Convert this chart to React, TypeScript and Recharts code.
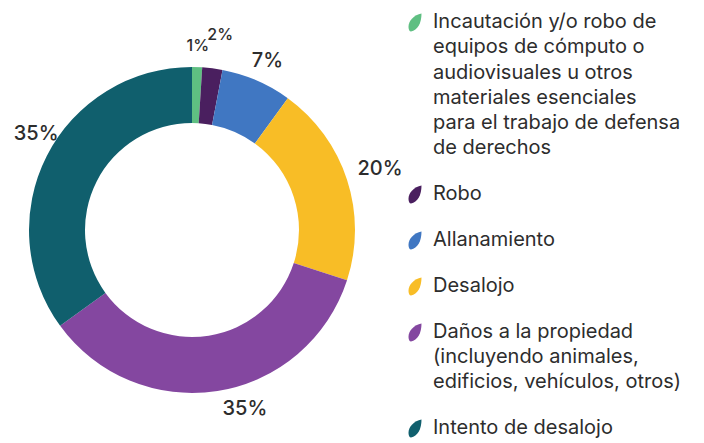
import { PieChart, Pie, Cell, Legend } from "recharts";

const categories = [
  "Incautación y/o robo de equipos de cómputo o audiovisuales u otros materiales esenciales para el trabajo de defensa de derechos",
  "Robo",
  "Allanamiento",
  "Desalojo",
  "Daños a la propiedad (incluyendo animales, edificios, vehículos, otros)",
  "Intento de desalojo",
];
const legendLines = [
  ["Incautación y/o robo de", "equipos de cómputo o", "audiovisuales u otros", "materiales esenciales", "para el trabajo de defensa", "de derechos"],
  ["Robo"],
  ["Allanamiento"],
  ["Desalojo"],
  ["Daños a la propiedad", "(incluyendo animales,", "edificios, vehículos, otros)"],
  ["Intento de desalojo"],
];
const percents = [1, 2, 7, 20, 35, 35];
const colors = ["#5fbf82", "#4a1f5f", "#4077c2", "#f8bd26", "#8447a0", "#105f6d"];
// small nudges so the labels clear each other, [dx, dy]
const labelNudge = [
  [0, 0],
  [5, -12],
  [2, 0],
  [12, -5],
  [24, -5],
  [9, -13],
];

const data = categories.map((name, i) => ({ name, value: percents[i], color: colors[i] }));

const RAD = Math.PI / 180;
const FONT = "Inter, 'Open Sans', sans-serif";

function renderLabel(props: any) {
  const { cx, cy, midAngle, outerRadius, value, index } = props;
  const r = outerRadius + 22;
  const x = cx + r * Math.cos(-midAngle * RAD) + labelNudge[index][0];
  const y = cy + r * Math.sin(-midAngle * RAD) + labelNudge[index][1];
  return (
    <text
      x={x}
      y={y}
      textAnchor="middle"
      dominantBaseline="central"
      fill="#2d2d2d"
      fontSize={value < 5 ? 16 : 20}
      fontFamily={FONT}
      fontWeight={500}
    >
      {`${value}%`}
    </text>
  );
}

function Leaf({ color }: { color: string }) {
  return (
    <svg width={14} height={19} viewBox="0 0 14 19" style={{ flex: "none", marginTop: 4 }}>
      <path d="M13.5 0.5 C6 2 0.5 7.5 0.5 14 C0.5 16.5 1.5 18.5 3 18.5 C9.5 17 13.5 10.5 13.5 0.5 Z" fill={color} />
    </svg>
  );
}

function LegendBox() {
  return (
    <div style={{ fontFamily: FONT, fontSize: 20, lineHeight: "25.3px", color: "#2d2d2d" }}>
      {data.map((d, i) => (
        <div key={d.name} style={{ display: "flex", alignItems: "flex-start", marginBottom: 20.5 }}>
          <Leaf color={d.color} />
          <div style={{ marginLeft: 11 }}>
            {legendLines[i].map((l) => (
              <div key={l}>{l}</div>
            ))}
          </div>
        </div>
      ))}
    </div>
  );
}

export default function App() {
  return (
    <div style={{ position: "absolute", left: 0, top: 0, width: 704, height: 443, background: "#fff" }}>
      <PieChart width={704} height={443} margin={{ top: 0, right: 0, bottom: 0, left: 0 }}>
        <Pie
          data={data}
          dataKey="value"
          nameKey="name"
          cx={192}
          cy={230}
          innerRadius={107}
          outerRadius={163}
          startAngle={90}
          endAngle={-270}
          stroke="none"
          label={renderLabel}
          labelLine={false}
          isAnimationActive={false}
        >
          {data.map((entry, index) => (
            <Cell key={`cell-${index}`} fill={entry.color} />
          ))}
        </Pie>
        <Legend
          layout="vertical"
          align="right"
          verticalAlign="top"
          content={() => <LegendBox />}
          wrapperStyle={{ left: 408, top: 9, width: 296 }}
        />
      </PieChart>
    </div>
  );
}
